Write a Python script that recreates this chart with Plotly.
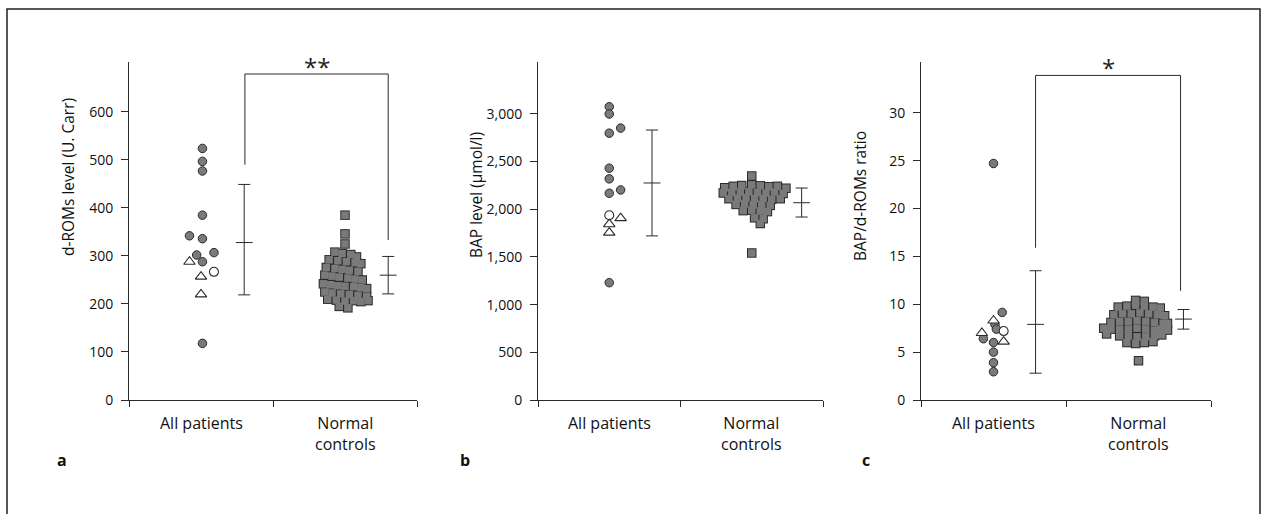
import plotly.graph_objects as go

W, H = 1262, 514

# ---------------- data ----------------
categories = ["All patients", "Normal<br>controls"]

# Panel a: d-ROMs level (U. Carr)
a_pat_circles = [524, 497, 477, 385, 342, 336, 302, 307, 288, 118]
a_pat_circles_jit = [0.01, 0.01, 0.01, 0.01, -0.08, 0.01, -0.03, 0.09, 0.01, 0.01]
a_pat_open = [267]
a_pat_open_jit = [0.09]
a_pat_tri = [288, 257, 220]
a_pat_tri_jit = [-0.08, 0.0, 0.0]
a_ctrl = [385, 346, 325,
          308, 305, 303, 298,
          292, 290, 288, 286, 284,
          276, 274, 272, 270, 268,
          260, 258, 256, 254, 252, 250,
          242, 240, 238, 237, 236, 234, 232,
          225, 223, 221, 220, 218, 216,
          210, 208, 206, 207, 205, 207,
          195, 192]
a_ctrl_jit = [0.0, 0.0, 0.0,
              -0.07, -0.02, 0.04, 0.08,
              -0.11, -0.05, 0.01, 0.07, 0.11,
              -0.13, -0.07, -0.02, 0.03, 0.09,
              -0.14, -0.09, -0.04, 0.02, 0.07, 0.12,
              -0.15, -0.10, -0.05, 0.0, 0.06, 0.11, 0.15,
              -0.14, -0.09, -0.03, 0.03, 0.09, 0.15,
              -0.12, -0.06, 0.0, 0.06, 0.11, 0.16,
              -0.04, 0.02]
a_mean = [328, 260]
a_hi = [449, 299]
a_lo = [219, 221]

# Panel b: BAP level (µmol/l)
b_pat_circles = [3074, 2998, 2850, 2797, 2430, 2318, 2202, 2167, 1230]
b_pat_circles_jit = [0.0, 0.0, 0.08, 0.0, 0.0, 0.0, 0.08, 0.0, 0.0]
b_pat_open = [1937]
b_pat_open_jit = [0.0]
b_pat_tri = [1843, 1906, 1754]
b_pat_tri_jit = [0.0, 0.08, 0.0]
b_ctrl = [2348, 1541,
          2225, 2240, 2248, 2255, 2245, 2235, 2240, 2220,
          2170, 2175, 2180, 2185, 2175, 2170, 2180, 2165,
          2110, 2115, 2120, 2110, 2115, 2105, 2110,
          2050, 2055, 2045, 2050, 2040,
          1985, 1990, 1980, 1975,
          1910, 1900, 1850]
b_ctrl_jit = [0.0, 0.0,
              -0.19, -0.13, -0.07, 0.0, 0.06, 0.12, 0.18, 0.24,
              -0.20, -0.14, -0.08, -0.02, 0.04, 0.10, 0.16, 0.22,
              -0.16, -0.10, -0.04, 0.02, 0.08, 0.14, 0.20,
              -0.11, -0.05, 0.01, 0.07, 0.13,
              -0.06, 0.0, 0.06, 0.11,
              0.02, 0.08, 0.06]
b_mean = [2275, 2068]
b_hi = [2830, 2222]
b_lo = [1720, 1918]

# Panel c: BAP/d-ROMs ratio
c_pat_circles = [24.7, 9.15, 7.9, 7.4, 6.4, 6.0, 5.0, 3.9, 2.95]
c_pat_circles_jit = [0.0, 0.06, 0.01, 0.02, -0.07, 0.0, 0.0, 0.0, 0.0]
c_pat_open = [7.2]
c_pat_open_jit = [0.07]
c_pat_tri = [8.3, 7.0, 6.1]
c_pat_tri_jit = [0.0, -0.08, 0.07]
c_ctrl = [4.1,
          10.4, 10.3,
          9.7, 9.8, 9.9, 9.8, 9.7, 9.6,
          8.9, 9.0, 9.0, 9.1, 9.0, 8.9, 8.8,
          8.1, 8.2, 8.2, 8.3, 8.2, 8.1, 8.0, 8.0,
          7.5, 7.4, 7.4, 7.4, 7.5, 7.4, 7.3, 7.4, 7.3,
          6.9, 6.7, 6.7, 6.6, 6.6, 6.7, 6.8,
          6.0, 5.9, 6.0, 6.1]
c_ctrl_jit = [0.0,
              -0.02, 0.04,
              -0.14, -0.08, -0.02, 0.04, 0.10, 0.15,
              -0.17, -0.11, -0.05, 0.01, 0.07, 0.13, 0.18,
              -0.19, -0.13, -0.07, -0.01, 0.05, 0.11, 0.17, 0.20,
              -0.24, -0.19, -0.13, -0.07, -0.01, 0.05, 0.11, 0.16, 0.20,
              -0.22, -0.13, -0.07, -0.01, 0.05, 0.11, 0.16,
              -0.08, -0.02, 0.04, 0.10]
c_mean = [7.9, 8.45]
c_hi = [13.5, 9.45]
c_lo = [2.8, 7.4]

y_titles = ["d-ROMs level (U. Carr)", "BAP level (µmol/l)", "BAP/d-ROMs ratio"]
panel_letters = ["a", "b", "c"]
y_tickvals = [[0, 100, 200, 300, 400, 500, 600],
              [0, 500, 1000, 1500, 2000, 2500, 3000],
              [0, 5, 10, 15, 20, 25, 30]]
y_tops = [704, 3543, 35.3]

# ---------------- layout helpers ----------------
def px(x):
    return x / W

def py(y):
    return 1 - y / H

FONT = "Open Sans"
GRAY = "#7a7a7a"
DARK = "#2a2a2a"
TXT = "#111111"

x_domains = [(129, 417), (538, 823), (921, 1211)]
y_domain = [py(400), py(62)]
err_off = [(0.30, 0.30), (0.30, 0.35), (0.29, 0.31)]

panels = [
    (a_pat_circles, a_pat_circles_jit, a_pat_open, a_pat_open_jit, a_pat_tri, a_pat_tri_jit,
     a_ctrl, a_ctrl_jit, a_mean, a_hi, a_lo),
    (b_pat_circles, b_pat_circles_jit, b_pat_open, b_pat_open_jit, b_pat_tri, b_pat_tri_jit,
     b_ctrl, b_ctrl_jit, b_mean, b_hi, b_lo),
    (c_pat_circles, c_pat_circles_jit, c_pat_open, c_pat_open_jit, c_pat_tri, c_pat_tri_jit,
     c_ctrl, c_ctrl_jit, c_mean, c_hi, c_lo),
]

fig = go.Figure()
annotations = []
shapes = []

for i, p in enumerate(panels):
    (pc, pcj, po, poj, pt, ptj, cc, ccj, mean, hi, lo) = p
    sfx = "" if i == 0 else str(i + 1)
    xa, ya = "x" + sfx, "y" + sfx

    # controls: outline layer then fill layer
    cx = [1 + j for j in ccj]
    fig.add_trace(go.Scatter(x=cx, y=cc, mode="markers", xaxis=xa, yaxis=ya,
                             marker=dict(symbol="square", size=9.5, color=DARK, line=dict(width=0)),
                             hoverinfo="skip", showlegend=False))
    fig.add_trace(go.Scatter(x=cx, y=cc, mode="markers", xaxis=xa, yaxis=ya,
                             marker=dict(symbol="square", size=7.5, color=GRAY, line=dict(width=0)),
                             showlegend=False))
    # patients
    fig.add_trace(go.Scatter(x=pcj, y=pc, mode="markers", xaxis=xa, yaxis=ya,
                             marker=dict(symbol="circle", size=8.5, color=GRAY,
                                         line=dict(width=1, color=DARK)),
                             showlegend=False))
    fig.add_trace(go.Scatter(x=poj, y=po, mode="markers", xaxis=xa, yaxis=ya,
                             marker=dict(symbol="circle", size=9, color="white",
                                         line=dict(width=1.1, color=DARK)),
                             showlegend=False))
    fig.add_trace(go.Scatter(x=ptj, y=pt, mode="markers", xaxis=xa, yaxis=ya,
                             marker=dict(symbol="triangle-up", size=10, color="white",
                                         line=dict(width=1.1, color=DARK)),
                             showlegend=False))
    # mean +/- SD bars
    ex = [0 + err_off[i][0], 1 + err_off[i][1]]
    fig.add_trace(go.Scatter(
        x=ex, y=mean, mode="markers", xaxis=xa, yaxis=ya,
        marker=dict(symbol="line-ew", size=12, color=DARK, line=dict(width=1, color=DARK)),
        error_y=dict(type="data", symmetric=False,
                     array=[h - m for h, m in zip(hi, mean)],
                     arrayminus=[m - l for m, l in zip(mean, lo)],
                     width=6, thickness=1, color=DARK),
        showlegend=False))

    # axes
    d = x_domains[i]
    fig.update_layout(**{
        ("xaxis" + sfx): dict(domain=[px(d[0]), px(d[1])], range=[-0.5, 1.5],
                              anchor=ya, tickvals=[-0.5, 0.5, 1.5], showticklabels=False,
                              ticks="outside", ticklen=6, tickwidth=1, tickcolor=DARK,
                              showline=True, linecolor=DARK, linewidth=1, automargin=False,
                              showgrid=False, zeroline=False, fixedrange=True),
        ("yaxis" + sfx): dict(domain=y_domain, range=[0, y_tops[i]], anchor=xa,
                              tickvals=y_tickvals[i], tickformat=",",
                              ticks="outside", ticklen=7, tickwidth=1, tickcolor=DARK,
                              ticklabelstandoff=5, automargin=False,
                              showline=True, linecolor=DARK, linewidth=1,
                              showgrid=False, zeroline=False, fixedrange=True,
                              tickfont=dict(family=FONT, size=14, color=TXT)),
    })

    # category labels
    for k, lab in enumerate(categories):
        annotations.append(dict(x=k, y=py(410), xref=xa, yref="paper", text=lab,
                                showarrow=False, yanchor="top", xanchor="center",
                                font=dict(family=FONT, size=16, color=TXT)))
    # y title
    title_x = [68, 476, 860][i]
    title_y = [177, 195, 196][i]
    annotations.append(dict(x=px(title_x), y=py(title_y), xref="paper", yref="paper",
                            text=y_titles[i], textangle=-90, showarrow=False,
                            xanchor="center", yanchor="middle",
                            font=dict(family=FONT, size=15.5, color=TXT)))
    # panel letter
    letter_x = [62, 465, 866][i]
    annotations.append(dict(x=px(letter_x), y=py(460), xref="paper", yref="paper",
                            text="<b>" + panel_letters[i] + "</b>", showarrow=False,
                            xanchor="center", yanchor="middle",
                            font=dict(family=FONT, size=16, color=TXT)))

# significance brackets
brackets = [
    ("x", "y", 0.305, 1.30, 490, 679, 333, "**"),
    ("x3", "y3", 0.29, 1.29, 15.9, 33.9, 11.4, "*"),
]
for xa, ya, xl, xr, yl, ytop, yr, star in brackets:
    shapes.append(dict(type="path", xref=xa, yref=ya,
                       path=f"M {xl},{yl} L {xl},{ytop} L {xr},{ytop} L {xr},{yr}",
                       line=dict(color=DARK, width=1)))
    annotations.append(dict(x=(xl + xr) / 2, y=ytop, xref=xa, yref=ya, text=star,
                            showarrow=False, yanchor="bottom", yshift=-11,
                            font=dict(family=FONT, size=24, color="#222")))

# outer frame
shapes.append(dict(type="rect", xref="paper", yref="paper",
                   x0=px(7), x1=px(1260), y0=-0.2, y1=py(9),
                   line=dict(color="#222", width=1.5)))

fig.update_layout(width=W, height=H, margin=dict(l=0, r=0, t=0, b=0, pad=0),
                  paper_bgcolor="white", plot_bgcolor="white",
                  annotations=annotations, shapes=shapes, showlegend=False,
                  font=dict(family=FONT))

fig.write_html("out.html",
               config={"displayModeBar": False, "responsive": False},
               post_script="document.body.style.margin='0px';"
                           "document.body.style.overflow='hidden';")
